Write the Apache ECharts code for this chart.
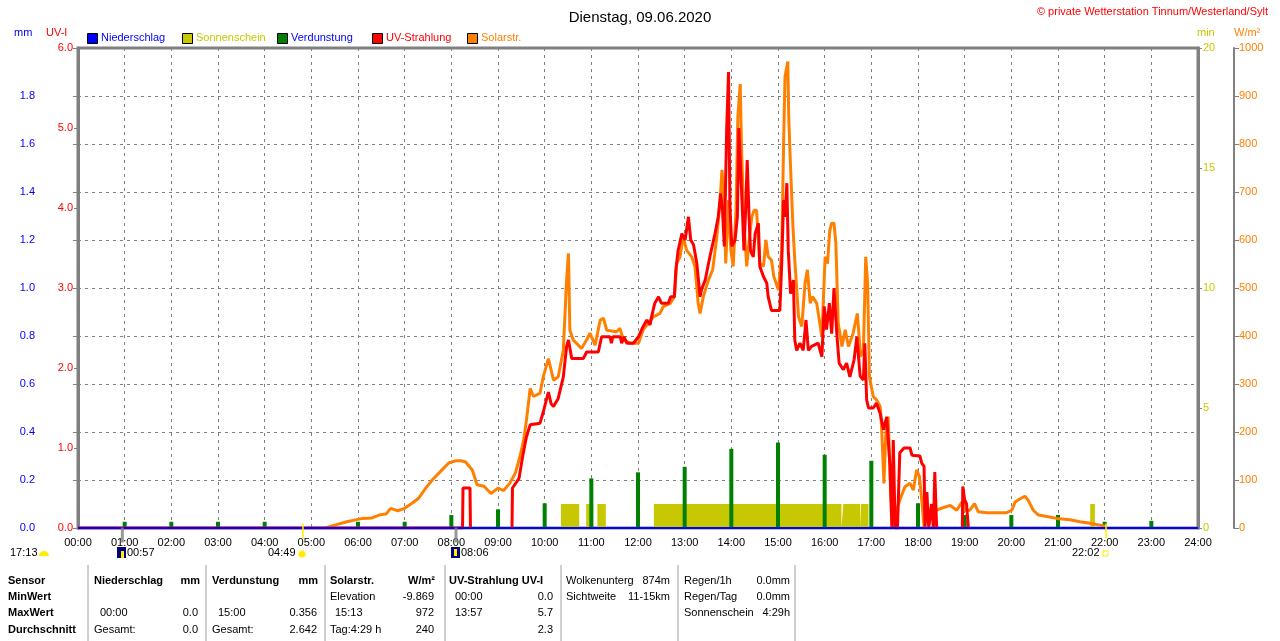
<!DOCTYPE html>
<html>
<head>
<meta charset="utf-8">
<script src="https://cdn.jsdelivr.net/npm/echarts@6/dist/echarts.min.js"></script>
<style>
html, body { margin: 0; padding: 0; background: #fff; }
#chart { width: 1280px; height: 641px; }
</style>
</head>
<body>
<div id="chart"></div>
<script>
// values, time in hours
const uvData = [
  [0, 0], [8.24, 0], [8.25, 0.5], [8.40, 0.5], [8.41, 0], null,
  [9.30, 0], [9.31, 0.5], [9.45, 0.62], [9.53, 0.9], [9.61, 1.14], [9.69, 1.29], [9.90, 1.31], [9.97, 1.45],
  [10.08, 1.70], [10.14, 1.55], [10.19, 1.52], [10.29, 1.62], [10.40, 1.89], [10.47, 2.27], [10.51, 2.35],
  [10.58, 2.12], [10.83, 2.12], [10.90, 2.20], [11.15, 2.20], [11.22, 2.39], [11.40, 2.39], [11.43, 2.31],
  [11.46, 2.39], [11.62, 2.39], [11.65, 2.31], [11.70, 2.39], [11.76, 2.31], [11.90, 2.31], [12.01, 2.39],
  [12.11, 2.52], [12.19, 2.6], [12.26, 2.54], [12.29, 2.64], [12.36, 2.81], [12.44, 2.89], [12.50, 2.81],
  [12.65, 2.81], [12.70, 2.89], [12.78, 2.89], [12.81, 3.22], [12.86, 3.47], [12.94, 3.68], [13.01, 3.60],
  [13.08, 3.89], [13.13, 3.60], [13.19, 3.54], [13.26, 3.31], [13.33, 2.89], [13.36, 2.98], [13.44, 3.10],
  [13.54, 3.39], [13.65, 3.68], [13.72, 3.89], [13.77, 4.18], [13.81, 3.98], [13.85, 3.52], [13.90, 4.98],
  [13.94, 5.70], [13.97, 4.02], [14.01, 3.52], [14.08, 3.60], [14.13, 3.89], [14.16, 5.0], [14.20, 4.48],
  [14.24, 3.93], [14.27, 3.47], [14.31, 4.02], [14.34, 4.6], [14.38, 3.89], [14.41, 3.47], [14.47, 3.39],
  [14.51, 3.68], [14.58, 3.81], [14.61, 3.27], [14.69, 3.14], [14.76, 3.06], [14.79, 2.89], [14.86, 2.72],
  [15.04, 2.72], [15.08, 3.31], [15.12, 4.1], [15.15, 3.89], [15.19, 4.31], [15.22, 3.47], [15.27, 2.93],
  [15.33, 3.1], [15.36, 2.35], [15.40, 2.22], [15.47, 2.31], [15.54, 2.22], [15.60, 2.6], [15.65, 2.22],
  [15.72, 2.27], [15.86, 2.31], [15.94, 2.14], [15.99, 2.77], [16.04, 2.48], [16.10, 2.81], [16.15, 2.43],
  [16.20, 3.0], [16.26, 2.43], [16.31, 2.06], [16.40, 1.98], [16.47, 2.06], [16.54, 1.89], [16.63, 2.1],
  [16.69, 2.39], [16.76, 1.9], [16.83, 1.85], [16.86, 2.31], [16.90, 1.6], [16.94, 1.5], [17.04, 1.5],
  [17.11, 1.56], [17.19, 1.43], [17.26, 1.23], [17.33, 1.39], [17.40, 0.77], [17.44, 0], [17.47, 1.1],
  [17.51, 0], [17.56, 0], [17.61, 0.94], [17.70, 1.0], [17.83, 1.0], [17.87, 0.91], [18.04, 0.9],
  [18.08, 0.81], [18.13, 0.77], [18.15, 0], [18.19, 0.45], [18.23, 0], [18.29, 0.3], [18.33, 0],
  [18.36, 0.70], [18.40, 0], null,
  [18.95, 0], [18.96, 0.52], [19.00, 0.35], [19.04, 0.3], [19.08, 0]
];

const solarData = [
  [5.30, 0], [5.33, 4], [5.50, 6], [5.76, 13], [6.00, 18], [6.10, 20], [6.30, 21], [6.45, 27], [6.60, 29],
  [6.70, 41], [6.85, 36], [7.00, 41], [7.15, 51], [7.30, 62], [7.45, 83], [7.60, 101], [7.80, 121],
  [7.95, 136], [8.10, 140], [8.20, 140], [8.30, 138], [8.45, 121], [8.55, 90], [8.70, 87], [8.85, 72],
  [9.00, 83], [9.12, 78], [9.25, 93], [9.37, 114], [9.47, 149], [9.55, 183], [9.61, 225], [9.69, 291],
  [9.76, 274], [9.90, 281], [9.97, 315], [10.08, 353], [10.19, 308], [10.29, 315], [10.40, 371],
  [10.47, 517], [10.51, 572], [10.54, 412], [10.61, 392], [10.79, 374], [10.90, 392], [10.97, 406],
  [11.08, 381], [11.19, 433], [11.26, 437], [11.33, 412], [11.54, 409], [11.61, 416], [11.69, 392],
  [11.83, 385], [12.01, 385], [12.11, 413], [12.33, 440], [12.47, 447], [12.54, 461], [12.69, 468],
  [12.78, 482], [12.83, 551], [12.90, 565], [12.97, 607], [13.04, 579], [13.15, 565], [13.22, 545],
  [13.29, 468], [13.33, 447], [13.40, 482], [13.51, 517], [13.60, 538], [13.69, 607], [13.76, 683],
  [13.80, 746], [13.84, 690], [13.88, 551], [13.94, 683], [13.99, 579], [14.04, 545], [14.10, 662],
  [14.14, 857], [14.19, 925], [14.22, 787], [14.27, 635], [14.33, 545], [14.39, 607], [14.44, 649],
  [14.49, 662], [14.54, 662], [14.61, 551], [14.69, 545], [14.74, 600], [14.79, 565], [14.86, 558],
  [14.91, 524], [15.01, 496], [15.08, 579], [15.12, 801], [15.15, 940], [15.21, 972], [15.23, 857],
  [15.26, 774], [15.32, 628], [15.36, 558], [15.44, 440], [15.51, 420], [15.58, 510], [15.63, 538],
  [15.69, 468], [15.74, 482], [15.83, 468], [15.94, 399], [16.01, 565], [16.06, 551], [16.11, 620],
  [16.15, 635], [16.20, 635], [16.24, 593], [16.29, 427], [16.37, 378], [16.44, 413], [16.51, 378],
  [16.61, 406], [16.70, 447], [16.77, 357], [16.83, 371], [16.88, 565], [16.92, 510], [16.96, 315],
  [17.04, 274], [17.11, 267], [17.19, 253], [17.22, 211], [17.27, 93], [17.31, 197], [17.36, 232],
  [17.42, 58], [17.47, 17], [17.61, 58], [17.72, 86], [17.83, 93], [17.90, 79], [17.97, 121],
  [18.03, 107], [18.08, 58], [18.13, 3], [18.19, 37], [18.29, 24], [18.40, 37], [18.47, 40],
  [18.69, 47], [18.83, 37], [18.94, 54], [19.01, 37], [19.11, 37], [19.21, 51], [19.29, 34],
  [19.47, 32], [19.90, 32], [20.01, 37], [20.08, 54], [20.19, 61], [20.29, 66], [20.36, 58],
  [20.47, 37], [20.58, 27], [20.76, 24], [20.97, 20], [21.26, 17], [21.47, 13], [21.69, 10],
  [21.90, 6], [22.01, 3], [22.03, 0]
];

const evapHours = [1, 2, 3, 4, 6, 7, 8, 9, 10, 11, 12, 13, 14, 15, 16, 17, 18, 19, 20, 21, 22, 23];
const evapValues = [0.026, 0.026, 0.026, 0.026, 0.026, 0.026, 0.054, 0.078, 0.103, 0.207, 0.232, 0.255,
  0.33, 0.356, 0.305, 0.28, 0.103, 0.054, 0.054, 0.054, 0.026, 0.03];

const sunStart = [10.35, 10.89, 11.13, 12.34, 16.40, 16.78, 21.69];
const sunEnd = [10.74, 11.04, 11.31, 16.36, 16.76, 16.94, 21.79];
const sunMinutes = 1;

const rainData = [[0, 0], [24, 0]];

// moon / sun rise and set markers
const grayMarks = [0.95, 8.1];
const yellowMarks = [4.82, 22.03];

const legendNames = ['Niederschlag', 'Sonnenschein', 'Verdunstung', 'UV-Strahlung', 'Solarstr.'];

const C_RAIN = '#0000ff', C_SUN = '#c8c800', C_EVAP = '#008000', C_UV = '#ff0000', C_SOLAR = '#ff8000';
const GRID = '#808080';
const FONT = 'Liberation Sans, Arial, sans-serif';

const sunData = [];
sunStart.forEach((s, i) => {
  sunData.push([s, 0], [s, sunMinutes], [sunEnd[i], sunMinutes], [sunEnd[i], 0]);
});
const evapData = evapHours.map((h, i) => [h, evapValues[i]]);

const chart = echarts.init(document.getElementById('chart'));

function txt(x, y, text, color, opts) {
  opts = opts || {};
  return {
    type: 'text', x: x, y: y, silent: true,
    style: {
      text: text, fill: color || '#000', font: (opts.bold ? 'bold ' : '') + (opts.size || 11) + 'px ' + FONT,
      textAlign: opts.align || 'left', textVerticalAlign: 'middle'
    }
  };
}

const graphics = [
  txt(1268, 12, '\u00a9 private Wetterstation Tinnum/Westerland/Sylt', '#ff0000', { align: 'right' }),
  txt(14, 33, 'mm', C_RAIN),
  txt(46, 33, 'UV-I', C_UV),
  txt(1197, 33, 'min', C_SUN),
  txt(1234, 33, 'W/m\u00b2', C_SOLAR),
  txt(10, 553, '17:13', '#000'),
  { type: 'sector', shape: { cx: 44, cy: 556, r: 5, startAngle: Math.PI, endAngle: 2 * Math.PI }, style: { fill: '#ffee00' } },
  { type: 'rect', shape: { x: 117, y: 547, width: 9, height: 11 }, style: { fill: '#000080' } },
  { type: 'rect', shape: { x: 121, y: 551, width: 3, height: 7 }, style: { fill: '#ffee00' } },
  txt(127, 553, '00:57', '#000'),
  txt(268, 553, '04:49', '#000'),
  { type: 'circle', shape: { cx: 302, cy: 554, r: 3.5 }, style: { fill: '#ffee00' } },
  { type: 'rect', shape: { x: 451, y: 547, width: 9, height: 11 }, style: { fill: '#000080' } },
  { type: 'rect', shape: { x: 454, y: 549, width: 3, height: 7 }, style: { fill: '#ffee00' } },
  txt(461, 553, '08:06', '#000'),
  txt(1072, 553, '22:02', '#000'),
  { type: 'rect', shape: { x: 1103, y: 551, width: 5, height: 5 }, style: { fill: 'none', stroke: '#ffee00', lineWidth: 1 } }
];

// legend boxes, fixed 95px pitch like the original
const legendBox = [C_RAIN, C_SUN, C_EVAP, C_UV, C_SOLAR];
const legendText = [C_RAIN, C_SUN, C_RAIN, C_UV, C_SOLAR];
legendNames.forEach((n, i) => {
  const x = 87 + i * 95;
  graphics.push({
    type: 'rect', shape: { x: x + 0.5, y: 33.5, width: 10, height: 10 },
    style: { fill: legendBox[i], stroke: '#000', lineWidth: 1 }
  });
  graphics.push(txt(x + 14, 38, n, legendText[i]));
});

// table below the chart
const sepX = [88, 206, 325, 445, 561, 678, 795];
sepX.forEach(x => graphics.push({
  type: 'line', shape: { x1: x, y1: 565, x2: x, y2: 641 }, style: { stroke: '#a0a0a0', lineWidth: 1 }
}));
const rows = [581, 597, 613, 630];
const B = { bold: true }, R = { align: 'right' }, BR = { bold: true, align: 'right' };
const cells = [
  [8, 0, 'Sensor', B], [8, 1, 'MinWert', B], [8, 2, 'MaxWert', B], [8, 3, 'Durchschnitt', B],
  [94, 0, 'Niederschlag', B], [200, 0, 'mm', BR], [100, 2, '00:00'], [198, 2, '0.0', R],
  [94, 3, 'Gesamt:'], [198, 3, '0.0', R],
  [212, 0, 'Verdunstung', B], [318, 0, 'mm', BR], [218, 2, '15:00'], [317, 2, '0.356', R],
  [212, 3, 'Gesamt:'], [317, 3, '2.642', R],
  [330, 0, 'Solarstr.', B], [435, 0, 'W/m\u00b2', BR], [330, 1, 'Elevation'], [434, 1, '-9.869', R],
  [335, 2, '15:13'], [434, 2, '972', R], [330, 3, 'Tag:4:29 h'], [434, 3, '240', R],
  [449, 0, 'UV-Strahlung UV-I', B], [455, 1, '00:00'], [553, 1, '0.0', R],
  [455, 2, '13:57'], [553, 2, '5.7', R], [553, 3, '2.3', R],
  [566, 0, 'Wolkenunterg'], [670, 0, '874m', R], [566, 1, 'Sichtweite'], [670, 1, '11-15km', R],
  [684, 0, 'Regen/1h'], [790, 0, '0.0mm', R], [684, 1, 'Regen/Tag'], [790, 1, '0.0mm', R],
  [684, 2, 'Sonnenschein'], [790, 2, '4:29h', R]
];
cells.forEach(c => graphics.push(txt(c[0], rows[c[1]], c[2], '#000', c[3])));

const dashed = { show: true, lineStyle: { color: GRID, type: [3, 4], width: 1 } };
const labelFont = { fontSize: 11, fontFamily: FONT };

chart.setOption({
  animation: false,
  backgroundColor: '#fff',
  title: {
    text: 'Dienstag, 09.06.2020', left: 'center', top: 5,
    textStyle: { fontSize: 15, fontWeight: 'normal', color: '#000', fontFamily: FONT }
  },
  grid: {
    left: 78, right: 82, top: 48, bottom: 113, show: true,
    borderColor: GRID, borderWidth: 3, backgroundColor: '#fff'
  },
  xAxis: {
    type: 'value', min: 0, max: 24, interval: 1,
    axisLine: { show: false }, axisTick: { show: false },
    axisLabel: Object.assign({ color: '#000', margin: 9, formatter: v => String(v).padStart(2, '0') + ':00' }, labelFont),
    splitLine: dashed
  },
  yAxis: [
    {
      type: 'value', position: 'left', offset: 38, min: 0, max: 2, interval: 0.2,
      axisLine: { show: true, lineStyle: { color: GRID, width: 2 } },
      axisTick: { show: true, length: 5, lineStyle: { color: GRID } },
      axisLabel: Object.assign({ color: C_RAIN, margin: 5, formatter: v => v >= 1.99 ? '' : v.toFixed(1) }, labelFont),
      splitLine: dashed
    },
    {
      type: 'value', position: 'left', offset: 0, min: 0, max: 6, interval: 1,
      axisLine: { show: true, lineStyle: { color: GRID, width: 3 } },
      axisTick: { show: true, length: 4, lineStyle: { color: GRID } },
      axisLabel: Object.assign({ color: C_UV, margin: 5, formatter: v => v.toFixed(1) }, labelFont),
      splitLine: { show: false }
    },
    {
      type: 'value', position: 'right', offset: 0, min: 0, max: 20, interval: 5,
      axisLine: { show: true, lineStyle: { color: GRID, width: 3 } },
      axisTick: { show: true, length: 4, lineStyle: { color: GRID } },
      axisLabel: Object.assign({ color: C_SUN, margin: 5 }, labelFont),
      splitLine: { show: false }
    },
    {
      type: 'value', position: 'right', offset: 36, min: 0, max: 1000, interval: 100,
      axisLine: { show: true, lineStyle: { color: GRID, width: 2 } },
      axisTick: { show: true, length: 5, lineStyle: { color: GRID } },
      axisLabel: Object.assign({ color: C_SOLAR, margin: 5, formatter: v => String(v) }, labelFont),
      splitLine: { show: false }
    }
  ],
  series: [
    {
      name: 'Sonnenschein', type: 'line', yAxisIndex: 2, data: sunData, symbol: 'none',
      color: C_SUN, lineStyle: { width: 0 }, areaStyle: { color: C_SUN, opacity: 1 }, z: 1
    },
    {
      name: 'Verdunstung', type: 'bar', yAxisIndex: 0, data: evapData, barWidth: 4,
      color: C_EVAP, itemStyle: { color: C_EVAP }, z: 2
    },
    {
      name: 'Solarstr.', type: 'line', yAxisIndex: 3, data: solarData, symbol: 'none',
      color: C_SOLAR, lineStyle: { color: C_SOLAR, width: 3 }, z: 3
    },
    {
      name: 'UV-Strahlung', type: 'line', yAxisIndex: 1, data: uvData, symbol: 'none', connectNulls: false,
      color: C_UV, lineStyle: { color: C_UV, width: 3 }, z: 4
    },
    {
      name: 'Niederschlag', type: 'line', yAxisIndex: 0, data: rainData, symbol: 'none',
      color: C_RAIN, lineStyle: { color: C_RAIN, width: 2 }, z: 5
    },
    {
      name: 'moon', type: 'scatter', yAxisIndex: 0, data: grayMarks.map(h => [h, 0]),
      symbol: 'rect', symbolSize: [3, 15], symbolOffset: [0, 7], itemStyle: { color: GRID }, z: 6, silent: true
    },
    {
      name: 'sun', type: 'scatter', yAxisIndex: 0, data: yellowMarks.map(h => [h, 0]),
      symbol: 'rect', symbolSize: [2, 15], symbolOffset: [0, 3], itemStyle: { color: '#ffee00' }, z: 6, silent: true
    }
  ],
  graphic: graphics
});
</script>
</body>
</html>
